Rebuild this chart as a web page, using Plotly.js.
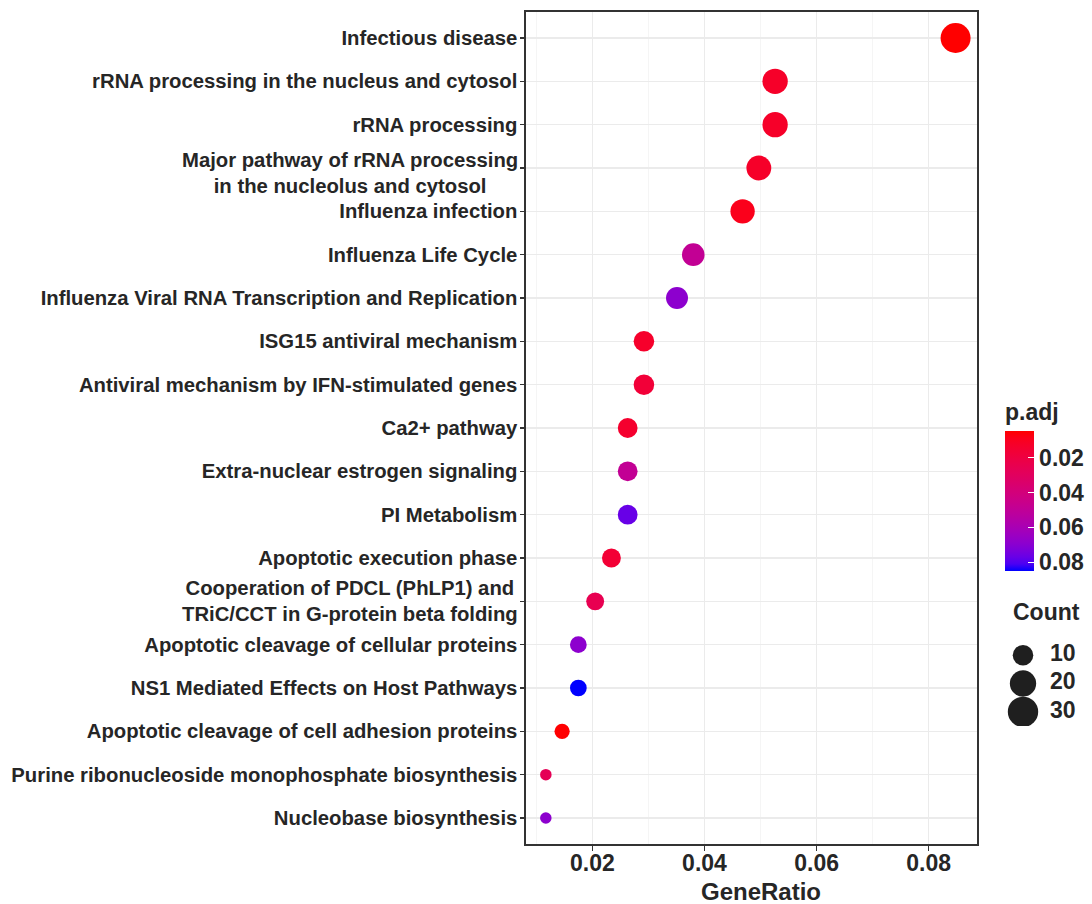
<!DOCTYPE html>
<html><head><meta charset="utf-8">
<script src="https://cdn.plot.ly/plotly-3.0.1.min.js"></script>
<style>html,body{margin:0;padding:0;background:#fff}#chart{width:1092px;height:904px}</style>
</head><body><div id="chart"></div>
<script>
// ---- data (top to bottom as drawn) ----
const pathways = [
  "Infectious disease",
  "rRNA processing in the nucleus and cytosol",
  "rRNA processing",
  "Major pathway of rRNA processing<br>in the nucleolus and cytosol",
  "Influenza infection",
  "Influenza Life Cycle",
  "Influenza Viral RNA Transcription and Replication",
  "ISG15 antiviral mechanism",
  "Antiviral mechanism by IFN-stimulated genes",
  "Ca2+ pathway",
  "Extra-nuclear estrogen signaling",
  "PI Metabolism",
  "Apoptotic execution phase",
  "Cooperation of PDCL (PhLP1) and<br>TRiC/CCT in G-protein beta folding",
  "Apoptotic cleavage of cellular proteins",
  "NS1 Mediated Effects on Host Pathways",
  "Apoptotic cleavage of cell adhesion proteins",
  "Purine ribonucleoside monophosphate biosynthesis",
  "Nucleobase biosynthesis"
];
const geneRatio = [0.0848, 0.0526, 0.0526, 0.0497, 0.0468, 0.0380, 0.0351, 0.0292, 0.0292,
                   0.0263, 0.0263, 0.0263, 0.0234, 0.0205, 0.0175, 0.0175, 0.0146, 0.0117, 0.0117];
const counts = [29, 18, 18, 17, 16, 13, 12, 10, 10, 9, 9, 9, 8, 7, 6, 6, 5, 4, 4];
const pAdj = [0.0047, 0.0125, 0.0125, 0.0125, 0.0090, 0.049, 0.069, 0.0130, 0.0170,
              0.0140, 0.049, 0.077, 0.0160, 0.025, 0.069, 0.085, 0.0048, 0.027, 0.069];
const xTicks = [0.02, 0.04, 0.06, 0.08];
const pTicks = [0.02, 0.04, 0.06, 0.08];
const countLegend = [10, 20, 30];

// ---- styling helpers ----
const FONT = "Liberation Sans, Arial, sans-serif";
const TXT = "#262626";
const cMin = Math.min(...counts), cMax = Math.max(...counts);
const sizeFn = c => 11.5 + 18.5 * Math.sqrt(Math.max(0, (c - cMin) / (cMax - cMin)));
const pMin = Math.min(...pAdj), pMax = Math.max(...pAdj);

// Lab interpolation between blue and red (like ggplot's gradient)
function toLin(c){c/=255;return c<=0.04045?c/12.92:Math.pow((c+0.055)/1.055,2.4);}
function toS(c){c=c<=0.0031308?12.92*c:1.055*Math.pow(c,1/2.4)-0.055;return Math.round(Math.max(0,Math.min(1,c))*255);}
const WH=[0.95047,1,1.08883];
function rgb2lab(r,g,b){r=toLin(r);g=toLin(g);b=toLin(b);
  let X=(0.4124*r+0.3576*g+0.1805*b)/WH[0],Y=(0.2126*r+0.7152*g+0.0722*b)/WH[1],Z=(0.0193*r+0.1192*g+0.9505*b)/WH[2];
  const f=t=>t>0.008856?Math.cbrt(t):7.787*t+16/116;
  const fx=f(X),fy=f(Y),fz=f(Z);return [116*fy-16,500*(fx-fy),200*(fy-fz)];}
function lab2rgb(L,a,bb){const fy=(L+16)/116,fx=fy+a/500,fz=fy-bb/200;
  const fi=t=>t*t*t>0.008856?t*t*t:(t-16/116)/7.787;
  const X=fi(fx)*WH[0],Y=fi(fy)*WH[1],Z=fi(fz)*WH[2];
  const r=3.2406*X-1.5372*Y-0.4986*Z,g=-0.9689*X+1.8758*Y+0.0415*Z,b=0.0557*X-0.2040*Y+1.0570*Z;
  return `rgb(${toS(r)},${toS(g)},${toS(b)})`;}
const labBlue=rgb2lab(0,0,255), labRed=rgb2lab(255,0,0);
const colorscale=[];
for(let i=0;i<=20;i++){const s=i/20;
  colorscale.push([s, lab2rgb(labBlue[0]+(labRed[0]-labBlue[0])*s, labBlue[1]+(labRed[1]-labBlue[1])*s, labBlue[2]+(labRed[2]-labBlue[2])*s)]);}

// ---- geometry ----
const W=1092,H=904,ML=526,MR=0,MT=12,MB=60;
const PW=W-ML-MR, PH=H-MT-MB;
const px=x=>(x-ML)/PW, py=y=>(H-MB-y)/PH;

const catOrder = pathways.slice().reverse();

const main = {
  type:'scatter', mode:'markers', x:geneRatio, y:pathways,
  xaxis:'x', yaxis:'y', showlegend:false, hoverinfo:'x+y',
  marker:{size:counts.map(sizeFn), color:pAdj.map(v=>-v), cmin:-pMax, cmax:-pMin,
    colorscale:colorscale, line:{width:0}, opacity:1,
    colorbar:{title:{text:'p.adj', side:'top', font:{family:FONT,size:23,color:TXT,weight:'bold'}},
      thickness:29, thicknessmode:'pixels', len:171, lenmode:'pixels',
      x:px(1005), xanchor:'left', xpad:0, y:py(485.4), yanchor:'middle', ypad:0,
      outlinewidth:0, tickmode:'array', tickvals:pTicks.map(v=>-v), ticktext:pTicks.map(v=>v.toFixed(2)),
      ticks:'inside', ticklen:6, tickwidth:1, tickcolor:'#ffffff',
      tickfont:{family:FONT,size:23,color:TXT,weight:'bold'}}}
};
const legDots = {
  type:'scatter', mode:'markers', x:countLegend.map(()=>23), y:countLegend,
  xaxis:'x2', yaxis:'y2', showlegend:false, hoverinfo:'skip',
  marker:{size:countLegend.map(sizeFn), color:'#1f1f1f', opacity:1, line:{width:0}}
};
const legText = {
  type:'scatter', mode:'text', x:countLegend.map(()=>50), y:countLegend,
  text:countLegend.map(String), textposition:'middle right',
  textfont:{family:FONT,size:23,color:TXT,weight:'bold'},
  xaxis:'x2', yaxis:'y2', showlegend:false, hoverinfo:'skip'
};

const annotations = pathways.filter(p=>p.includes('<br>')).map(p=>({
  xref:'paper', yref:'y', x:0, y:p, xanchor:'right', yanchor:'middle', xshift:-6,
  yshift: p.startsWith('Major') ? -5 : 0,
  align:'center', showarrow:false, text:p,
  font:{family:FONT,size:20.3,color:TXT,weight:'bold'}
}));
annotations.push({xref:'paper', yref:'paper', x:px(1011), y:py(611.7), xanchor:'left', yanchor:'middle',
  showarrow:false, text:'Count', font:{family:FONT,size:23,color:TXT,weight:'bold'}});
annotations.push({xref:'paper', yref:'paper', x:px(761), y:py(891.7), xanchor:'center', yanchor:'middle',
  showarrow:false, text:'GeneRatio', font:{family:FONT,size:24,color:TXT,weight:'bold'}});

const layout = {
  width:W, height:H, margin:{l:ML,r:MR,t:MT,b:MB,pad:0},
  paper_bgcolor:'#fff', plot_bgcolor:'#fff', showlegend:false,
  font:{family:FONT,color:TXT},
  xaxis:{domain:[0, 451/PW], range:[0.00816, 0.08862], tickmode:'array', tickvals:xTicks,
    ticktext:xTicks.map(v=>v.toFixed(2)), showgrid:true, gridcolor:'#EBEBEB', gridwidth:1.3,
    minor:{dtick:0.01, tick0:0, showgrid:true, gridcolor:'#F2F2F2', gridwidth:0.8, ticks:''},
    zeroline:false, showline:true, linecolor:'#333333', linewidth:1.6, mirror:true,
    ticks:'outside', ticklen:5, tickwidth:1.4, tickcolor:'#333333', ticklabelstandoff:-7,
    tickfont:{family:FONT,size:23,color:TXT,weight:'bold'},
    automargin:false, anchor:'y'},
  yaxis:{type:'category', categoryorder:'array', categoryarray:catOrder, range:[-0.6, catOrder.length-0.4],
    tickmode:'array', tickvals:catOrder, ticktext:catOrder.map(p=>p.includes('<br>')?'':p),
    showgrid:true, gridcolor:'#EBEBEB', gridwidth:1.3, zeroline:false,
    showline:true, linecolor:'#333333', linewidth:1.6, mirror:true,
    ticks:'outside', ticklen:4, tickwidth:1.4, tickcolor:'#333333', ticklabelstandoff:-1,
    tickfont:{family:FONT,size:20.3,color:TXT,weight:'bold'}, automargin:false, anchor:'x'},
  xaxis2:{domain:[px(1000),1], range:[0,92], visible:false, fixedrange:true, anchor:'y2'},
  yaxis2:{domain:[py(726), py(641)], range:[35,5], visible:false, fixedrange:true, anchor:'x2'},
  annotations:annotations
};
Plotly.newPlot('chart',[main,legDots,legText],layout,{displayModeBar:false,staticPlot:true});
</script></body></html>
